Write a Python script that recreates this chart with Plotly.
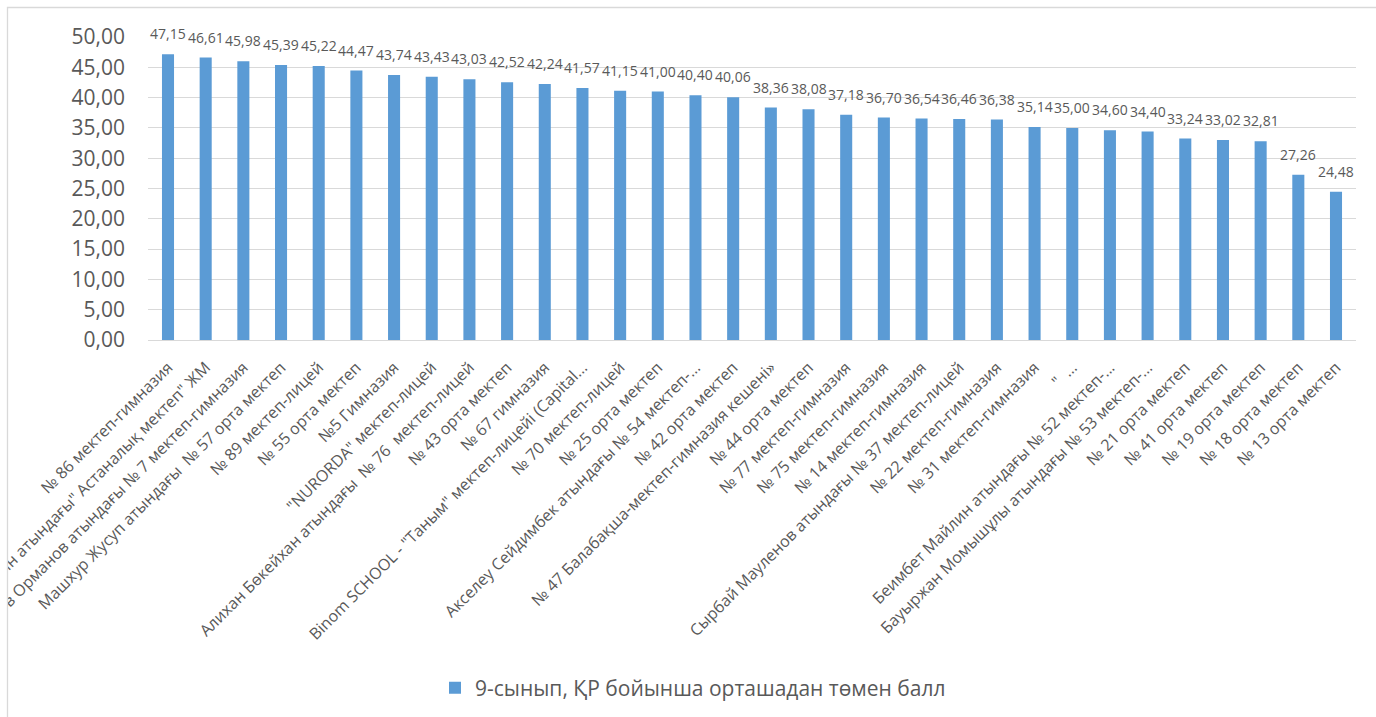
import plotly.graph_objects as go

categories = [
    "№ 86 мектеп-гимназия",
    "Ілияс Есенберлин атындағы\" Астаналық мектеп\" ЖМ",
    "Ғафу Қайырбеков Орманов атындағы № 7 мектеп-гимназия",
    "Машхур Жусуп атындағы  № 57 орта мектеп",
    "№ 89 мектеп-лицей",
    "№ 55 орта мектеп",
    "№5 Гимназия",
    "\"NURORDA\" мектеп-лицей",
    "Алихан Бөкейхан атындағы  № 76  мектеп-лицей",
    "№ 43 орта мектеп",
    "№ 67 гимназия",
    "Binom SCHOOL - \"Таным\" мектеп-лицейі (Capital...",
    "№ 70 мектеп-лицей",
    "№ 25 орта мектеп",
    "Акселеу Сейдимбек атындағы № 54 мектеп-...",
    "№ 42 орта мектеп",
    "№ 47 Балабақша-мектеп-гимназия кешені»",
    "№ 44 орта мектеп",
    "№ 77 мектеп-гимназия",
    "№ 75 мектеп-гимназия",
    "№ 14 мектеп-гимназия",
    "Сырбай Мауленов атындағы № 37 мектеп-лицей",
    "№ 22 мектеп-гимназия",
    "№ 31 мектеп-гимназия",
    "\"  ...",
    "Беимбет Майлин атындағы № 52 мектеп-...",
    "Бауыржан Момышұлы атындағы № 53 мектеп-...",
    "№ 21 орта мектеп",
    "№ 41 орта мектеп",
    "№ 19 орта мектеп",
    "№ 18 орта мектеп",
    "№ 13 орта мектеп",
]

values = [47.15, 46.61, 45.98, 45.39, 45.22, 44.47, 43.74, 43.43, 43.03, 42.52,
          42.24, 41.57, 41.15, 41.00, 40.40, 40.06, 38.36, 38.08, 37.18, 36.70,
          36.54, 36.46, 36.38, 35.14, 35.00, 34.60, 34.40, 33.24, 33.02, 32.81,
          27.26, 24.48]

series_name = "9-сынып, ҚР бойынша орташадан төмен балл"
y_ticks = [0, 5, 10, 15, 20, 25, 30, 35, 40, 45, 50]

FONT = "Open Sans"
GREY = "#595959"
BAR = "#5b9bd5"
GRID = "#d9d9d9"

W, H = 1376, 717
L, R, T, B = 148, 20, 37, 377
PW, PH = W - L - R, H - T - B


def px_x(px):
    return (px - L) / PW


def px_y(py):
    return (H - B - py) / PH


fig = go.Figure()
fig.add_trace(go.Bar(
    x=categories, y=values, name=series_name,
    marker=dict(color=BAR, line=dict(width=0)),
    width=0.32, showlegend=True,
))

annotations = [
    dict(x=c, y=v, xref="x", yref="y", text=f"{v:.2f}".replace(".", ","),
         showarrow=False, yanchor="bottom", yshift=9,
         font=dict(family=FONT, size=14, color=GREY))
    for c, v in zip(categories, values)
]

fig.update_layout(
    width=W, height=H,
    margin=dict(l=L, r=R, t=T, b=B, autoexpand=False),
    paper_bgcolor="white", plot_bgcolor="white",
    separators=", ",
    font=dict(family=FONT, color=GREY),
    annotations=annotations,
    showlegend=True,
    legend=dict(orientation="h", x=px_x(693), y=px_y(688),
                xanchor="center", yanchor="middle",
                font=dict(family=FONT, size=21, color=GREY),
                itemwidth=30),
    shapes=[
        dict(type="rect", xref="paper", yref="paper",
             x0=px_x(-50), x1=px_x(7.5), y0=px_y(760), y1=px_y(-20),
             fillcolor="white", line=dict(width=0), layer="above"),
        dict(type="rect", xref="paper", yref="paper",
             x0=px_x(7.5), x1=px_x(1390), y0=px_y(740), y1=px_y(7.5),
             fillcolor="rgba(0,0,0,0)", line=dict(color=GRID, width=1.3), layer="above"),
    ],
)

fig.update_xaxes(
    type="category", tickangle=-45, automargin=False,
    tickfont=dict(family=FONT, size=16, color=GREY),
    showgrid=False, showline=False, ticks="", ticklabelstandoff=14,
)
fig.update_yaxes(
    range=[0, 50], tickvals=y_ticks, tickformat=".2f", automargin=False,
    tickfont=dict(family=FONT, size=21, color=GREY),
    showgrid=True, gridcolor=GRID, gridwidth=1.3,
    zeroline=True, zerolinecolor=GRID, zerolinewidth=1.3,
    showline=False, ticks="", ticklabelstandoff=22,
)

fig.write_html("out.html", config={"displayModeBar": False},
               post_script="document.body.style.margin='0px';")
